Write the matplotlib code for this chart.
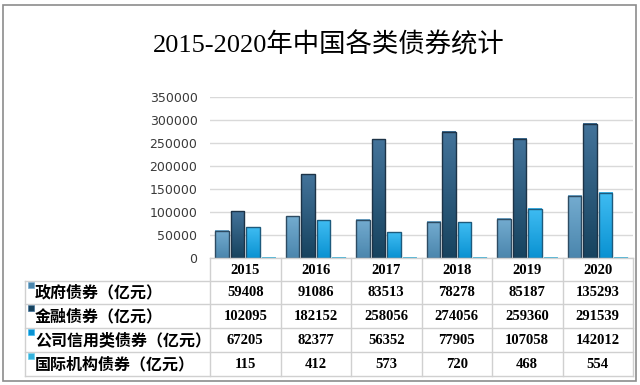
import numpy as np
import matplotlib.pyplot as plt
from matplotlib.patches import Rectangle
from matplotlib.lines import Line2D
from matplotlib.colors import LinearSegmentedColormap

years = ["2015", "2016", "2017", "2018", "2019", "2020"]
series_names = ["政府债券（亿元）", "金融债券（亿元）", "公司信用类债券（亿元）", "国际机构债券（亿元）"]
gov = [59408, 91086, 83513, 78278, 85187, 135293]
fin = [102095, 182152, 258056, 274056, 259360, 291539]
corp = [67205, 82377, 56352, 77905, 107058, 142012]
intl = [115, 412, 573, 720, 468, 554]
series = [gov, fin, corp, intl]

# (top colour, bottom colour, edge colour) for each series
styles = [("#74acd0", "#4b86ad", "#2d4b62"),
          ("#43739a", "#17435f", "#1d3347"),
          ("#3fbcf2", "#0a92d2", "#1d5a7c"),
          ("#6ad0ee", "#36b2dc", "#2b7f99")]

W, H = 640, 385
fx = lambda px: px / W
fy = lambda py: 1 - py / H

cjk = ["Noto Sans CJK SC", "DejaVu Sans"]
serif = ["Liberation Serif", "Noto Sans CJK SC"]

fig = plt.figure(figsize=(6.4, 3.85), dpi=100)
fig.patch.set_facecolor("white")

left, right, top, bottom = 210, 633, 97, 258
ax = fig.add_axes([fx(left), fy(bottom), fx(right) - fx(left), fy(top) - fy(bottom)])
ax.set_xlim(-0.5, len(years) - 0.5)
ax.set_ylim(0, 350000)
ax.set_yticks(np.arange(0, 350001, 50000))
ax.set_xticks([])
for s in ax.spines.values():
    s.set_visible(False)
ax.tick_params(axis="y", length=0, pad=9, labelsize=9, labelcolor="#3a3a3a")
ax.grid(axis="y", color="#d9d9d9", linewidth=1)
ax.set_axisbelow(True)

bw = 0.185
step = 0.22
x = np.arange(len(years))
for k, vals in enumerate(series):
    c_top, c_bot, c_edge = styles[k]
    cmap = LinearSegmentedColormap.from_list("g%d" % k, [c_bot, c_top])
    grad = np.linspace(1, 0, 64).reshape(-1, 1)
    bars = ax.bar(x + (k - 1.5) * step, vals, width=bw, facecolor="none",
                  edgecolor=c_edge, linewidth=1.0, zorder=3)
    for b in bars:
        x0, w, h = b.get_x(), b.get_width(), b.get_height()
        ax.imshow(grad, cmap=cmap, extent=[x0, x0 + w, 0, h], aspect="auto",
                  zorder=2, interpolation="bilinear")
ax.set_xlim(-0.5, len(years) - 0.5)
ax.set_ylim(0, 350000)

# title
fig.text(fx(329), fy(45), "2015-2020年中国各类债券统计", family=serif,
         fontsize=19, ha="center", va="center", color="black")

# data table
line_c = "#d0d0d0"
rows_y = [258, 281, 304, 328, 352, 376]
col_x = np.linspace(left, right, len(years) + 1)
for i, yy in enumerate(rows_y):
    xs = left if i == 0 else 25
    fig.add_artist(Line2D([fx(xs), fx(right)], [fy(yy), fy(yy)], color=line_c, lw=1))
for cx in col_x:
    fig.add_artist(Line2D([fx(cx), fx(cx)], [fy(258), fy(376)], color=line_c, lw=1))
fig.add_artist(Line2D([fx(25), fx(25)], [fy(281), fy(376)], color=line_c, lw=1))

for j, yr in enumerate(years):
    cx = (col_x[j] + col_x[j + 1]) / 2
    fig.text(fx(cx), fy(270), yr, family=serif, fontsize=10.5, fontweight="bold",
             ha="center", va="center")
for i, name in enumerate(series_names):
    cy = (rows_y[i + 1] + rows_y[i + 2]) / 2
    c_top, c_bot, c_edge = styles[i]
    fig.add_artist(Rectangle((fx(28), fy(cy - 5)), fx(6), 6 / H, facecolor=c_bot,
                             edgecolor=c_top, lw=0.5))
    fig.text(fx(35), fy(cy), name, family=cjk, fontsize=11.5, fontweight="bold",
             ha="left", va="center")
    for j, v in enumerate(series[i]):
        cx = (col_x[j] + col_x[j + 1]) / 2
        fig.text(fx(cx), fy(cy), str(v), family=serif, fontsize=10.5,
                 fontweight="bold", ha="center", va="center")

# outer frame
fig.add_artist(Rectangle((fx(3), fy(381)), fx(636) - fx(3), fy(5) - fy(381),
                         facecolor="none", edgecolor="#8c8c8c", lw=1.2))

fig.savefig("out.png", dpi=100)
plt.close()
